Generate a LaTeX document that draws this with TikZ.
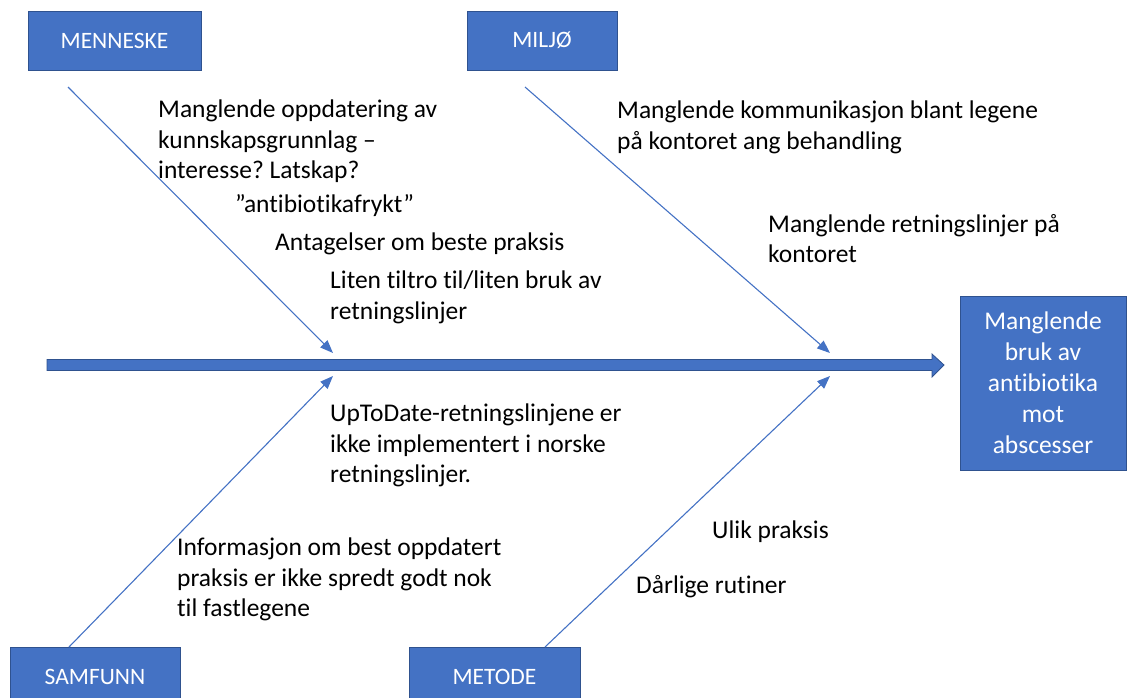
\documentclass[tikz,border=0pt]{standalone}
\usepackage{fontspec}
\setmainfont{Carlito}[Ligatures={NoCommon}]
\usetikzlibrary{arrows.meta}
\definecolor{obl}{HTML}{4472C4}
\definecolor{obd}{HTML}{2F528F}
\frenchspacing
\begin{document}
\begin{tikzpicture}[x=1pt,y=-1pt,
  catbox/.style={draw=obd,fill=obl,line width=0.8pt,text=white,font=\fontsize{23.5}{28}\selectfont,inner sep=0pt},
  bone/.style={draw=obl,line width=1.1pt,-{Triangle[length=13pt,width=10pt]}},
  cause/.style={anchor=north west,inner sep=0pt,align=left,font=\fontsize{25.5}{30.5}\selectfont,text=black}]
\useasboundingbox (0,0) rectangle (1127,697);
% category boxes
\node[catbox,minimum width=173pt,minimum height=59pt] (menn) at (114.5,40.5) {MENNESKE};
\node[catbox,minimum width=150pt,minimum height=59pt] (milj) at (542,40.5) {MILJØ};
\node[catbox,minimum width=170pt,minimum height=60pt] (samf) at (95,677) {SAMFUNN};
\node[catbox,minimum width=171pt,minimum height=60pt] (meto) at (494.5,677) {METODE};
% effect box
\node[catbox,minimum width=166pt,minimum height=174pt,align=center,font=\fontsize{25.5}{31}\selectfont] (eff) at (1043,383) {Manglende\\bruk av\\antibiotika\\mot\\abscesser};
% spine
\draw[draw=obd,fill=obl,line width=0.8pt] (47,359.5) -- (932,359.5) -- (932,354) -- (944,365) -- (932,377) -- (932,370.5) -- (47,370.5) -- cycle;
% bone ends
\coordinate (m1) at (68,87);
\coordinate (m2) at (333,353);
\coordinate (j1) at (525,87);
\coordinate (j2) at (830,353);
\coordinate (s1) at (69,647);
\coordinate (s2) at (333,376);
\coordinate (t1) at (545,647);
\coordinate (t2) at (830,376);
\draw[bone] (m1) -- (m2);
\draw[bone] (j1) -- (j2);
\draw[bone] (s1) -- (s2);
\draw[bone] (t1) -- (t2);
% causes
\node[cause] (c1) at (158,100) {Manglende oppdatering av\\kunnskapsgrunnlag –\\interesse? Latskap?};
\node[cause] (c2) at (235,194) {”antibiotikafrykt”};
\node[cause] (c3) at (275,233) {Antagelser om beste praksis};
\node[cause] (c4) at (330,271) {Liten tiltro til/liten bruk av\\retningslinjer};
\node[cause] (c5) at (617,101) {Manglende kommunikasjon blant legene\\på kontoret ang behandling};
\node[cause] (c6) at (768,214) {Manglende retningslinjer på\\kontoret};
\node[cause] (c7) at (330,404) {UpToDate-retningslinjene er\\ikke implementert i norske\\retningslinjer.};
\node[cause] (c8) at (177,538) {Informasjon om best oppdatert\\praksis er ikke spredt godt nok\\til fastlegene};
\node[cause] (c9) at (712,521) {Ulik praksis};
\node[cause] (c10) at (636,575) {Dårlige rutiner};
\end{tikzpicture}
\end{document}
